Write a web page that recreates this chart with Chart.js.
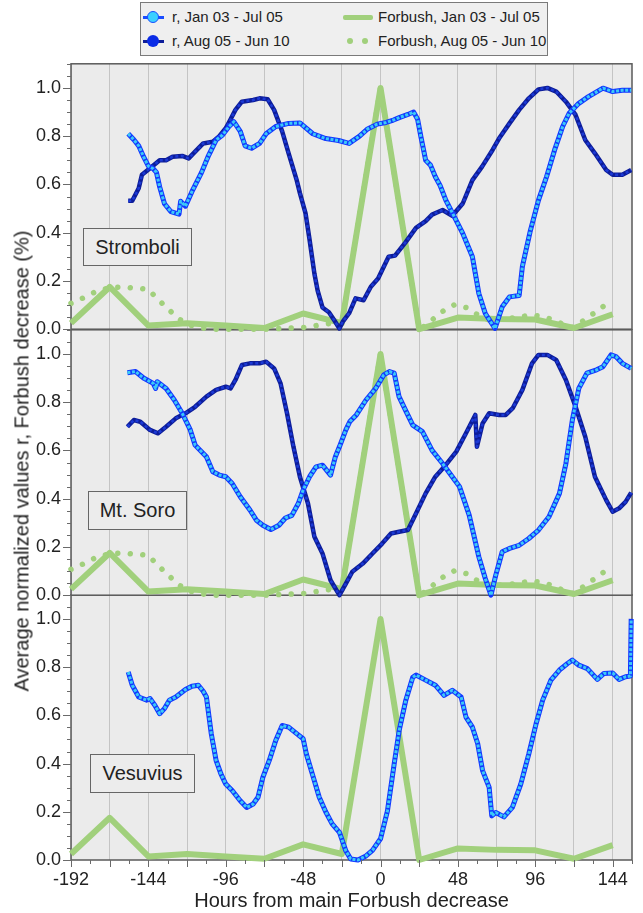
<!DOCTYPE html>
<html lang="en">
<head>
<meta charset="UTF-8">
<title>Normalized r and Forbush decrease</title>
<script src="https://cdn.jsdelivr.net/npm/chart.js"></script>
<style>
    body { margin: 0; background: #fff; font-family: "Liberation Sans", Arial, sans-serif; color: #222; }
    #wrap { position: relative; width: 643px; height: 913px; overflow: hidden; }
    #wrap canvas { position: absolute; left: 0; }
    .legend { position: absolute; left: 140px; top: 2px; width: 406px; height: 52px; background: #efefef; border: 1.5px solid #7a7a7a; z-index: 5; }
    .legend .txt { position: absolute; font-size: 15px; line-height: 18px; white-space: nowrap; }
    .legend .ln { position: absolute; height: 3px; }
    .legend .dot { position: absolute; border-radius: 50%; }
    .tag { position: absolute; background: #ececec; border: 1.3px solid #666; font-size: 20px; text-align: center; z-index: 5; box-sizing: border-box; }
    .ytitle { position: absolute; left: 22px; top: 461px; transform: translate(-50%, -50%) rotate(-90deg); font-size: 20px; white-space: nowrap; z-index: 5; }
</style>
</head>
<body>
<div id="wrap">
    <div class="legend">
        <div class="ln" style="left:2px;top:13px;width:21px;background:#1a4dff"></div>
        <div class="dot" style="left:6px;top:8px;width:10px;height:10px;background:#3cd0ff;border:1.5px solid #1a4dff"></div>
        <div class="txt" style="left:31px;top:5px">r, Jan 03 - Jul 05</div>
        <div class="ln" style="left:2px;top:37px;width:21px;background:#0d1d9a"></div>
        <div class="dot" style="left:6px;top:32px;width:12px;height:12px;background:#0a2be6"></div>
        <div class="txt" style="left:31px;top:29px">r, Aug 05 - Jun 10</div>
        <div class="ln" style="left:202px;top:12px;width:30px;height:5px;background:#a1d07c;border-radius:2px"></div>
        <div class="txt" style="left:237px;top:5px">Forbush, Jan 03 - Jul 05</div>
        <div class="dot" style="left:206px;top:35px;width:6px;height:6px;background:#a1d07c"></div>
        <div class="dot" style="left:221px;top:35px;width:6px;height:6px;background:#a1d07c"></div>
        <div class="txt" style="left:237px;top:29px">Forbush, Aug 05 - Jun 10</div>
    </div>
    <div class="ytitle">Average normalized values r, Forbush decrease (%)</div>
    <div class="tag" style="left:83px;top:228px;width:109px;height:38px;line-height:36px">Stromboli</div>
    <div class="tag" style="left:88px;top:491px;width:99px;height:39px;line-height:37px">Mt. Soro</div>
    <div class="tag" style="left:90px;top:754px;width:105px;height:39px;line-height:37px">Vesuvius</div>
    <canvas id="p1" width="643" height="307" style="top:43px;z-index:3"></canvas>
    <canvas id="p2" width="643" height="307" style="top:309px;z-index:2"></canvas>
    <canvas id="p3" width="643" height="339" style="top:574px;z-index:1"></canvas>
</div>

<script>
// x grid every 24 h, labelled every 48 h
const hourTicks = [-192, -168, -144, -120, -96, -72, -48, -24, 0, 24, 48, 72, 96, 120, 144];
const yTicks = [0, 0.2, 0.4, 0.6, 0.8, 1.0];

// Forbush decrease, Jan 03 - Jul 05 (same in every panel)
const forbushHours = [-192, -168, -144, -120, -96, -72, -48, -24, 0, 24, 48, 72, 96, 120, 144];
const forbushJanJul = [0.025, 0.175, 0.015, 0.025, 0.015, 0.005, 0.065, 0.025, 1.0, 0.0, 0.048, 0.042, 0.04, 0.005, 0.062];

// Forbush decrease, Aug 05 - Jun 10 [hour, value]
const forbushAugJun = [[-192,0.107],[-184,0.131],[-176,0.158],[-168,0.172],[-160,0.175],[-152,0.17],[-144,0.165],[-138,0.123],[-132,0.086],[-126,0.047],[-120,0.021],[-112,0.006],[-104,0.0],
    [-90,0.0],[-72,0.0],[-58,0.004],[-46,0.008],[-37,0.018],[-30,0.025],[-24,0.028],[0,1.0],[24,0.0],[29,0.02],[33,0.044],[39,0.076],[46,0.102],[53,0.09],[60,0.061],[68,0.035],
    [76,0.045],[84,0.047],[92,0.058],[100,0.054],[108,0.037],[115,0.015],[120,0.006],[128,0.047],[136,0.082],[143,0.122]];

// r, Stromboli [hour, value]
const stromboliJanJul = [[-156.5,0.81],[-153,0.785],[-150,0.76],[-147,0.715],[-144,0.676],[-141,0.665],[-139,0.65],[-137,0.59],[-134,0.52],[-130,0.487],[-125,0.477],[-124,0.53],[-121,0.51],
    [-117,0.57],[-111,0.65],[-107,0.715],[-102,0.784],[-98,0.805],[-94,0.84],[-91,0.86],[-87,0.82],[-84,0.76],[-80,0.75],[-75,0.77],[-71,0.81],[-65,0.84],[-57,0.853],[-50,0.855],
    [-42,0.81],[-34,0.79],[-26,0.782],[-19.5,0.77],[-13,0.80],[-8,0.83],[-2,0.85],[3.5,0.857],[8,0.867],[12,0.878],[17,0.89],[20.5,0.9],[23,0.87],[25,0.8],[28,0.7],[31,0.68],
    [34,0.632],[37,0.595],[40.5,0.535],[45.5,0.47],[51,0.397],[57,0.30],[61,0.148],[65,0.065],[71,0.003],[75.5,0.093],[80,0.134],[86,0.14],[88,0.26],[93,0.41],[98,0.535],
    [103,0.632],[108,0.743],[113,0.84],[117,0.895],[123,0.936],[129,0.964],[138,0.999],[144,0.985],[150,0.99],[155.5,0.99]];
const stromboliAugJun = [[-156.5,0.532],[-154,0.532],[-150,0.584],[-148,0.64],[-143,0.667],[-137,0.70],[-133,0.70],[-129,0.715],[-123,0.718],[-119,0.708],[-115,0.736],[-110,0.77],
    [-104,0.777],[-100,0.80],[-96,0.833],[-93,0.87],[-90,0.909],[-86,0.943],[-79,0.95],[-75,0.957],[-70,0.953],[-66,0.909],[-61,0.82],[-57,0.729],[-52,0.618],[-50,0.564],[-46.5,0.48],
    [-44,0.37],[-41,0.23],[-39,0.16],[-36,0.09],[-32,0.07],[-28.5,0.035],[-25.5,0.003],[-23.5,0.03],[-19.5,0.066],[-15.5,0.128],[-10.5,0.12],[-6,0.176],[-1.5,0.21],[5,0.30],
    [9,0.305],[15.5,0.36],[22,0.42],[28,0.448],[32,0.475],[38.5,0.494],[44.5,0.47],[51,0.521],[57,0.618],[63,0.674],[69.5,0.743],[73.5,0.79],[80,0.853],[86,0.909],[92,0.957],
    [98,0.994],[103.5,1.0],[109,0.985],[115,0.943],[121,0.888],[127,0.784],[133,0.729],[140,0.66],[144,0.64],[150,0.64],[155.5,0.66]];

// r, Mt. Soro [hour, value]
const soroJanJul = [[-157,0.922],[-152,0.927],[-147,0.90],[-141,0.878],[-139.5,0.857],[-138.5,0.885],[-133,0.857],[-128,0.81],[-123,0.754],[-118,0.685],[-115,0.622],[-108,0.574],
    [-104,0.512],[-100,0.498],[-96,0.491],[-92,0.463],[-87,0.408],[-81,0.353],[-77,0.311],[-73,0.29],[-68,0.272],[-63,0.29],[-59,0.32],[-55,0.331],[-51,0.38],[-48,0.436],[-44,0.491],
    [-40,0.532],[-36,0.539],[-31,0.498],[-28,0.574],[-25.5,0.615],[-21.5,0.685],[-19,0.72],[-15,0.747],[-9,0.809],[-3,0.857],[2,0.913],[5.5,0.927],[8.5,0.92],[11.5,0.823],[16,0.76],
    [20,0.705],[26,0.678],[32,0.60],[38.5,0.546],[44.5,0.491],[49,0.45],[55,0.332],[61,0.159],[65,0.069],[68.5,0.0],[71.5,0.083],[75.5,0.18],[80,0.194],[86,0.207],[92,0.235],
    [98,0.27],[104.5,0.325],[111,0.422],[115,0.546],[119,0.726],[123,0.857],[128,0.92],[134,0.934],[138,0.947],[143,0.996],[146,0.989],[150,0.961],[155.5,0.94]];
const soroAugJun = [[-157,0.698],[-153,0.726],[-149,0.719],[-143,0.685],[-138,0.671],[-133,0.698],[-127,0.733],[-121,0.754],[-115,0.781],[-108,0.823],[-102,0.851],[-96,0.864],
    [-93,0.857],[-90,0.892],[-86,0.954],[-81,0.961],[-75,0.961],[-71,0.968],[-66,0.94],[-62,0.878],[-58,0.754],[-54,0.615],[-50,0.491],[-45,0.38],[-41,0.242],[-36,0.173],[-31,0.062],
    [-25.5,0.0],[-21.5,0.048],[-17.5,0.097],[-11,0.131],[-5,0.173],[1,0.214],[6.5,0.256],[11.5,0.263],[17,0.27],[22,0.339],[28,0.422],[34,0.491],[40.5,0.54],[47,0.595],[53,0.671],
    [58.8,0.747],[59.8,0.615],[63.3,0.712],[67.4,0.754],[73.6,0.747],[77.7,0.747],[82,0.775],[88,0.851],[94,0.961],[98,0.996],[103.5,0.996],[109,0.975],[115,0.892],[121,0.781],
    [127,0.657],[133,0.491],[140,0.394],[144,0.346],[148,0.36],[152,0.387],[155.5,0.425]];

// r, Vesuvius [hour, value]
const vesuviusJanJul = [[-156.5,0.78],[-154,0.725],[-150,0.676],[-145,0.663],[-143,0.67],[-140,0.642],[-137,0.607],[-134,0.628],[-131,0.663],[-127,0.676],[-121,0.707],[-117,0.721],
    [-113,0.725],[-110,0.70],[-108,0.676],[-105,0.524],[-102,0.413],[-99,0.357],[-96,0.315],[-92,0.288],[-87,0.246],[-83,0.218],[-79,0.232],[-76,0.26],[-73,0.343],[-69,0.413],
    [-65,0.496],[-61,0.558],[-57,0.551],[-52,0.524],[-48,0.503],[-46,0.44],[-42,0.35],[-38,0.26],[-34,0.2],[-30,0.15],[-25.5,0.115],[-21.5,0.038],[-18.5,0.004],[-14,0.0],[-9,0.017],
    [-5,0.04],[0,0.088],[4.3,0.204],[8.5,0.40],[11.6,0.538],[15.7,0.663],[20,0.758],[22,0.767],[28,0.746],[34,0.725],[39.4,0.683],[44.5,0.704],[50,0.676],[53,0.593],[57,0.551],
    [60.3,0.482],[63.3,0.371],[67.4,0.301],[69,0.183],[71.5,0.197],[76.6,0.179],[81.8,0.218],[87,0.315],[92,0.44],[96.5,0.565],[100.6,0.663],[105.7,0.746],[111,0.788],[116,0.815],
    [119,0.829],[123,0.808],[128.3,0.794],[134.5,0.749],[138.6,0.774],[144,0.776],[148,0.749],[152,0.76],[155,0.763],[155.5,1.0]];

const FONT = '"Liberation Sans", Arial, sans-serif';
const GREEN = '#a1d07c';

function janJulLine(data) {
    return [
        { data: data, borderColor: '#1238ff', borderWidth: 5, order: 1 },
        { data: data, borderColor: '#3ccaf6', borderWidth: 3, borderDash: [3, 1.6], order: 0 }
    ];
}
function augJunLine(data) {
    return [
        { data: data, borderColor: '#0d1d9a', borderWidth: 4.5, order: 3 },
        { data: data, borderColor: '#1c3ad6', borderWidth: 2.5, borderDash: [3, 2.5], order: 2 }
    ];
}
function forbushSets(withAugJun) {
    const sets = [{ data: forbushHours.map((h, i) => [h, forbushJanJul[i]]), borderColor: GREEN, borderWidth: 6, order: 5 }];
    if (withAugJun) {
        sets.push({ data: forbushAugJun, borderColor: GREEN, borderWidth: 5.5, borderDash: [0.01, 12.5], borderCapStyle: 'round', order: 4 });
    }
    return sets;
}

// grey panel, frame and outside tick marks
const panelFrame = {
    id: 'panelFrame',
    beforeDraw(chart) {
        const a = chart.chartArea, ctx = chart.ctx;
        ctx.save();
        ctx.fillStyle = '#ebebeb';
        ctx.fillRect(a.left, a.top, a.right - a.left, a.bottom - a.top);
        ctx.restore();
    },
    beforeDatasetsDraw(chart) {
        const a = chart.chartArea, ctx = chart.ctx;
        ctx.save();
        ctx.strokeStyle = '#5a5a5a';
        ctx.lineWidth = 1.5;
        ctx.strokeRect(a.left, a.top, a.right - a.left, a.bottom - a.top);
        ctx.restore();
    },
    afterDraw(chart) {
        const a = chart.chartArea, ctx = chart.ctx, y = chart.scales.y, x = chart.scales.x;
        ctx.save();
        ctx.strokeStyle = '#6a6a6a';
        ctx.lineWidth = 1;
        for (let k = 0; k <= 22; k++) {
            const py = Math.round(y.getPixelForValue(k * 0.05)) + 0.5;
            const len = k % 4 === 0 ? 8 : 4;
            ctx.beginPath(); ctx.moveTo(a.left - len, py); ctx.lineTo(a.left, py); ctx.stroke();
        }
        if (chart.options.plugins.panelFrame.xTicks) {
            for (let h = -192; h <= 156; h += 12) {
                const px = Math.round(x.getPixelForValue(h)) + 0.5;
                const len = h % 24 === 0 ? 7 : 4;
                ctx.beginPath(); ctx.moveTo(px, a.bottom); ctx.lineTo(px, a.bottom + len); ctx.stroke();
            }
        }
        ctx.restore();
    }
};

function makePanel(id, datasets, bottom) {
    return new Chart(document.getElementById(id), {
        type: 'line',
        data: { datasets: datasets },
        plugins: [panelFrame],
        options: {
            responsive: false,
            animation: false,
            events: [],
            layout: { padding: { top: 10, right: 11, bottom: bottom ? 0 : 15, left: 0 } },
            datasets: { line: { pointRadius: 0, tension: 0, clip: false, borderJoinStyle: 'round' } },
            plugins: { legend: { display: false }, tooltip: { enabled: false }, panelFrame: { xTicks: bottom } },
            scales: {
                x: {
                    type: 'linear', min: -192, max: 156,
                    afterBuildTicks: s => { s.ticks = hourTicks.map(v => ({ value: v })); },
                    afterFit: s => { s.height = bottom ? 53 : 0; },
                    grid: { color: '#c4c4c4', lineWidth: 1, drawTicks: false },
                    border: { display: false },
                    ticks: {
                        display: bottom, autoSkip: false, maxRotation: 0, padding: 9,
                        font: { family: FONT, size: 18 }, color: '#222',
                        callback: v => (v % 48 === 0 ? String(v) : '')
                    },
                    title: {
                        display: bottom, text: 'Hours from main Forbush decrease',
                        font: { family: FONT, size: 20 }, color: '#222', padding: { top: 0, bottom: 0 }
                    }
                },
                y: {
                    min: 0, max: 1.1,
                    afterBuildTicks: s => { s.ticks = yTicks.map(v => ({ value: v })); },
                    afterFit: s => { s.width = 71; },
                    grid: { display: false, drawTicks: false },
                    border: { display: false },
                    ticks: { padding: 10, font: { family: FONT, size: 18 }, color: '#222', callback: v => v.toFixed(1) }
                }
            }
        }
    });
}

makePanel('p1', [...janJulLine(stromboliJanJul), ...augJunLine(stromboliAugJun), ...forbushSets(true)], false);
makePanel('p2', [...janJulLine(soroJanJul), ...augJunLine(soroAugJun), ...forbushSets(true)], false);
makePanel('p3', [...janJulLine(vesuviusJanJul), ...forbushSets(false)], true);
</script>
</body>
</html>
